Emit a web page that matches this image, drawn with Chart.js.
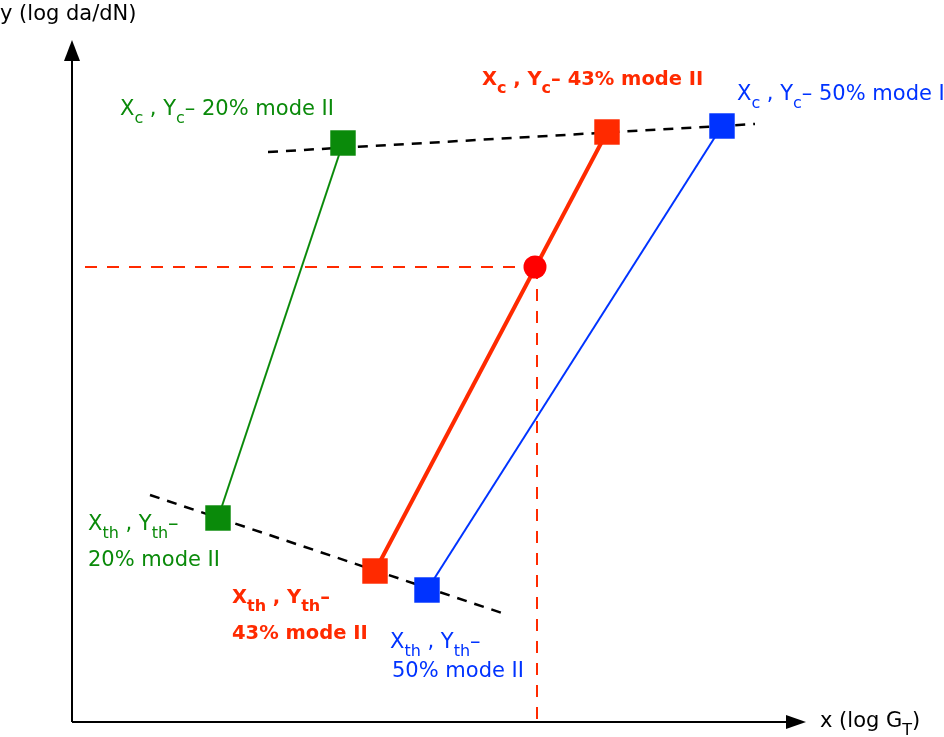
<!DOCTYPE html>
<html lang="en">
<head>
    <meta charset="UTF-8">
    <title>Crack growth transition chart</title>
    <script src="https://cdn.jsdelivr.net/npm/chart.js"></script>
    <style>
        body { margin: 0; background: #fff; }
        canvas { display: block; }
    </style>
</head>
<body>
    <canvas id="chart" width="944" height="737"></canvas>

    <script>
        // data (x = log G_T, y = log da/dN, schematic units)
        const greenPts = [{x: 271, y: 579}, {x: 146, y: 204}];
        const redPts = [{x: 535, y: 590}, {x: 303, y: 151}];
        const bluePts = [{x: 650, y: 596}, {x: 355, y: 132}];
        const redCircle = [{x: 463, y: 455}];
        const upperLine = [{x: 196, y: 570}, {x: 683, y: 598}];
        const lowerLine = [{x: 78, y: 227}, {x: 436, y: 107}];
        const guideH = [{x: 13, y: 455}, {x: 463, y: 455}];
        const guideV = [{x: 465, y: 455}, {x: 465, y: 0}];

        const GREEN = '#0a8a0a';
        const RED = '#ff2a00';
        const BLUE = '#0033ff';

        // labels: [x, y, color, bold, parts]
        const labels = [
            [48, 607, GREEN, false, [['X'], ['c', 1], [' , Y'], ['c', 1], ['\u2013 20% mode II']]],
            [410, 637, RED, true, [['X'], ['c', 1], [' , Y'], ['c', 1], ['\u2013 43% mode II']]],
            [665, 622, BLUE, false, [['X'], ['c', 1], [' , Y'], ['c', 1], ['\u2013 50% mode II']]],
            [16, 192, GREEN, false, [['X'], ['th', 1], [' , Y'], ['th', 1], ['\u2013']]],
            [16, 156, GREEN, false, [['20% mode II']]],
            [160, 119, RED, true, [['X'], ['th', 1], [' , Y'], ['th', 1], ['\u2013']]],
            [160, 83, RED, true, [['43% mode II']]],
            [318, 74, BLUE, false, [['X'], ['th', 1], [' , Y'], ['th', 1], ['\u2013']]],
            [320, 45, BLUE, false, [['50% mode II']]]
        ];

        const FONT = '"DejaVu Sans", sans-serif';

        function drawRich(ctx, x, y, parts, color, bold) {
            ctx.fillStyle = color;
            ctx.textBaseline = 'alphabetic';
            ctx.textAlign = 'left';
            let cx = x;
            parts.forEach(p => {
                const sub = p[1] === 1;
                const size = sub ? 16 : (bold ? 19.5 : 21);
                ctx.font = (bold ? 'bold ' : '') + size + 'px ' + FONT;
                ctx.fillText(p[0], cx, sub ? y + 8 : y);
                cx += ctx.measureText(p[0]).width;
            });
        }

        const axesPlugin = {
            id: 'axesPlugin',
            afterDraw(chart) {
                const ctx = chart.ctx;
                const xs = chart.scales.x, ys = chart.scales.y;
                const ox = xs.getPixelForValue(0), oy = ys.getPixelForValue(0);
                ctx.save();
                ctx.strokeStyle = '#000';
                ctx.fillStyle = '#000';
                ctx.lineWidth = 2;
                // y axis
                ctx.beginPath();
                ctx.moveTo(ox, oy);
                ctx.lineTo(ox, 58);
                ctx.stroke();
                ctx.beginPath();
                ctx.moveTo(ox, 40);
                ctx.lineTo(ox - 8, 61);
                ctx.lineTo(ox + 8, 61);
                ctx.closePath();
                ctx.fill();
                // x axis
                ctx.beginPath();
                ctx.moveTo(ox, oy);
                ctx.lineTo(789, oy);
                ctx.stroke();
                ctx.beginPath();
                ctx.moveTo(806, oy);
                ctx.lineTo(786, oy - 7);
                ctx.lineTo(786, oy + 7);
                ctx.closePath();
                ctx.fill();

                drawRich(ctx, 0, 20, [['y (log da/dN)']], '#000', false);
                drawRich(ctx, 820, 727, [['x (log G'], ['T', 1], [')']], '#000', false);

                labels.forEach(l => {
                    drawRich(ctx, xs.getPixelForValue(l[0]), ys.getPixelForValue(l[1]), l[4], l[2], l[3]);
                });
                ctx.restore();
            }
        };

        new Chart(document.getElementById('chart'), {
            type: 'scatter',
            data: {
                datasets: [
                    { data: greenPts, showLine: true, borderColor: GREEN, backgroundColor: GREEN, borderWidth: 2,
                      pointStyle: 'rect', pointRadius: 18, pointBorderWidth: 0, order: 1 },
                    { data: redPts, showLine: true, borderColor: RED, backgroundColor: RED, borderWidth: 4,
                      pointStyle: 'rect', pointRadius: 18, pointBorderWidth: 0, order: 1 },
                    { data: bluePts, showLine: true, borderColor: BLUE, backgroundColor: BLUE, borderWidth: 2,
                      pointStyle: 'rect', pointRadius: 18, pointBorderWidth: 0, order: 1 },
                    { data: redCircle, borderColor: '#ff0000', backgroundColor: '#ff0000',
                      pointStyle: 'circle', pointRadius: 11.5, pointBorderWidth: 0, order: 0 },
                    { data: upperLine, showLine: true, borderColor: '#000', borderWidth: 2.5, borderDash: [10, 8],
                      pointRadius: 0, order: 3 },
                    { data: lowerLine, showLine: true, borderColor: '#000', borderWidth: 2.5, borderDash: [10, 8],
                      pointRadius: 0, order: 3 },
                    { data: guideH, showLine: true, borderColor: RED, borderWidth: 2, borderDash: [12, 10],
                      pointRadius: 0, order: 4 },
                    { data: guideV, showLine: true, borderColor: RED, borderWidth: 2, borderDash: [12, 10],
                      pointRadius: 0, order: 4 }
                ]
            },
            options: {
                responsive: false,
                animation: false,
                clip: false,
                layout: { autoPadding: false, padding: { left: 72, top: 0, right: 0, bottom: 15 } },
                scales: {
                    x: { type: 'linear', min: 0, max: 872, display: false },
                    y: { type: 'linear', min: 0, max: 722, display: false }
                },
                plugins: {
                    legend: { display: false },
                    tooltip: { enabled: false }
                }
            },
            plugins: [axesPlugin]
        });
    </script>
</body>
</html>
